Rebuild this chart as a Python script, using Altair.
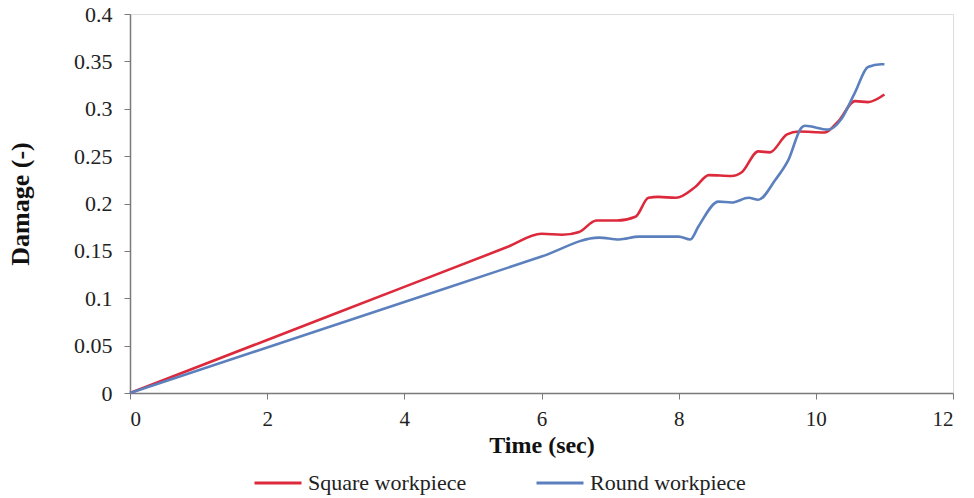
import altair as alt
import pandas as pd

series_names = ["Square workpiece", "Round workpiece"]
colors = ["#dc2a3c", "#5b80bd"]

square_t = [0, 2, 4, 5.5, 6.0, 6.3, 6.55, 6.8, 7.1, 7.37, 7.56, 7.7, 7.96, 8.25, 8.44, 8.77, 8.92,
            9.16, 9.33, 9.58, 9.75, 10.13, 10.33, 10.57, 10.76, 11.0]
square_v = [0, 0.056, 0.112, 0.154, 0.168, 0.167, 0.170, 0.182, 0.182, 0.186, 0.206, 0.207, 0.206,
            0.218, 0.230, 0.229, 0.233, 0.255, 0.254, 0.273, 0.276, 0.275, 0.287, 0.308, 0.307, 0.315]

round_t = [0, 2, 4, 6, 6.84, 7.13, 7.42, 8.0, 8.17, 8.29, 8.58, 8.77, 9.02, 9.16, 9.41, 9.6, 9.79,
           9.84, 10.18, 10.37, 10.57, 10.76, 10.95, 11.0]
round_v = [0, 0.048, 0.096, 0.144, 0.164, 0.162, 0.165, 0.165, 0.162, 0.176, 0.202, 0.201, 0.206,
           0.204, 0.225, 0.246, 0.280, 0.282, 0.278, 0.289, 0.317, 0.344, 0.347, 0.347]

x_ticks = [0, 2, 4, 6, 8, 10, 12]
y_ticks = [0, 0.05, 0.1, 0.15, 0.2, 0.25, 0.3, 0.35, 0.4]

rows = []
for i, (t, v) in enumerate(zip(square_t, square_v)):
    rows.append({"t": t, "v": v, "s": series_names[0], "o": i})
for i, (t, v) in enumerate(zip(round_t, round_v)):
    rows.append({"t": t, "v": v, "s": series_names[1], "o": i})
df = pd.DataFrame(rows)

font = "'Liberation Serif', 'DejaVu Serif', serif"

chart = alt.Chart(df).mark_line(strokeWidth=2.6, interpolate="monotone").encode(
    x=alt.X("t:Q", scale=alt.Scale(domain=[0, 12], nice=False),
            axis=alt.Axis(values=x_ticks, title="Time (sec)", grid=False, format="d",
                          labelFontSize=21, titleFontSize=24, titleFontWeight="bold",
                          labelFont=font, titleFont=font, labelColor="#222",
                          titleColor="#111", domainColor="#7a7a7a", tickColor="#7a7a7a",
                          domainWidth=1.5, tickSize=6, labelPadding=9, titlePadding=4)),
    y=alt.Y("v:Q", scale=alt.Scale(domain=[0, 0.4], nice=False),
            axis=alt.Axis(values=y_ticks, title="Damage (-)", grid=False, format=".2~f",
                          labelFontSize=22, titleFontSize=26, titleFontWeight="bold",
                          labelFont=font, titleFont=font, labelColor="#222",
                          titleColor="#111", domainColor="#7a7a7a", tickColor="#7a7a7a",
                          domainWidth=1.5, tickSize=6, labelPadding=12, titlePadding=40)),
    color=alt.Color("s:N", scale=alt.Scale(domain=series_names, range=colors),
                    legend=alt.Legend(title=None, orient="none", legendX=123, legendY=444,
                                      direction="horizontal", symbolType="stroke",
                                      symbolSize=2209, symbolStrokeWidth=3,
                                      labelFont=font, labelFontSize=22, labelColor="#222",
                                      columnPadding=63, labelOffset=5)),
    order="o:Q",
).properties(
    width=823, height=379,
    autosize=alt.AutoSizeParams(type="none"),
    padding={"left": 130, "top": 14, "right": 21, "bottom": 105},
).configure_view(stroke="#a8a8a8", strokeWidth=1.2).configure_axis(
    labelFont=font, titleFont=font
).configure_legend(labelFont=font).configure(background="white", font=font)

chart.save("out.html", embed_options={"renderer": "svg", "actions": False})
